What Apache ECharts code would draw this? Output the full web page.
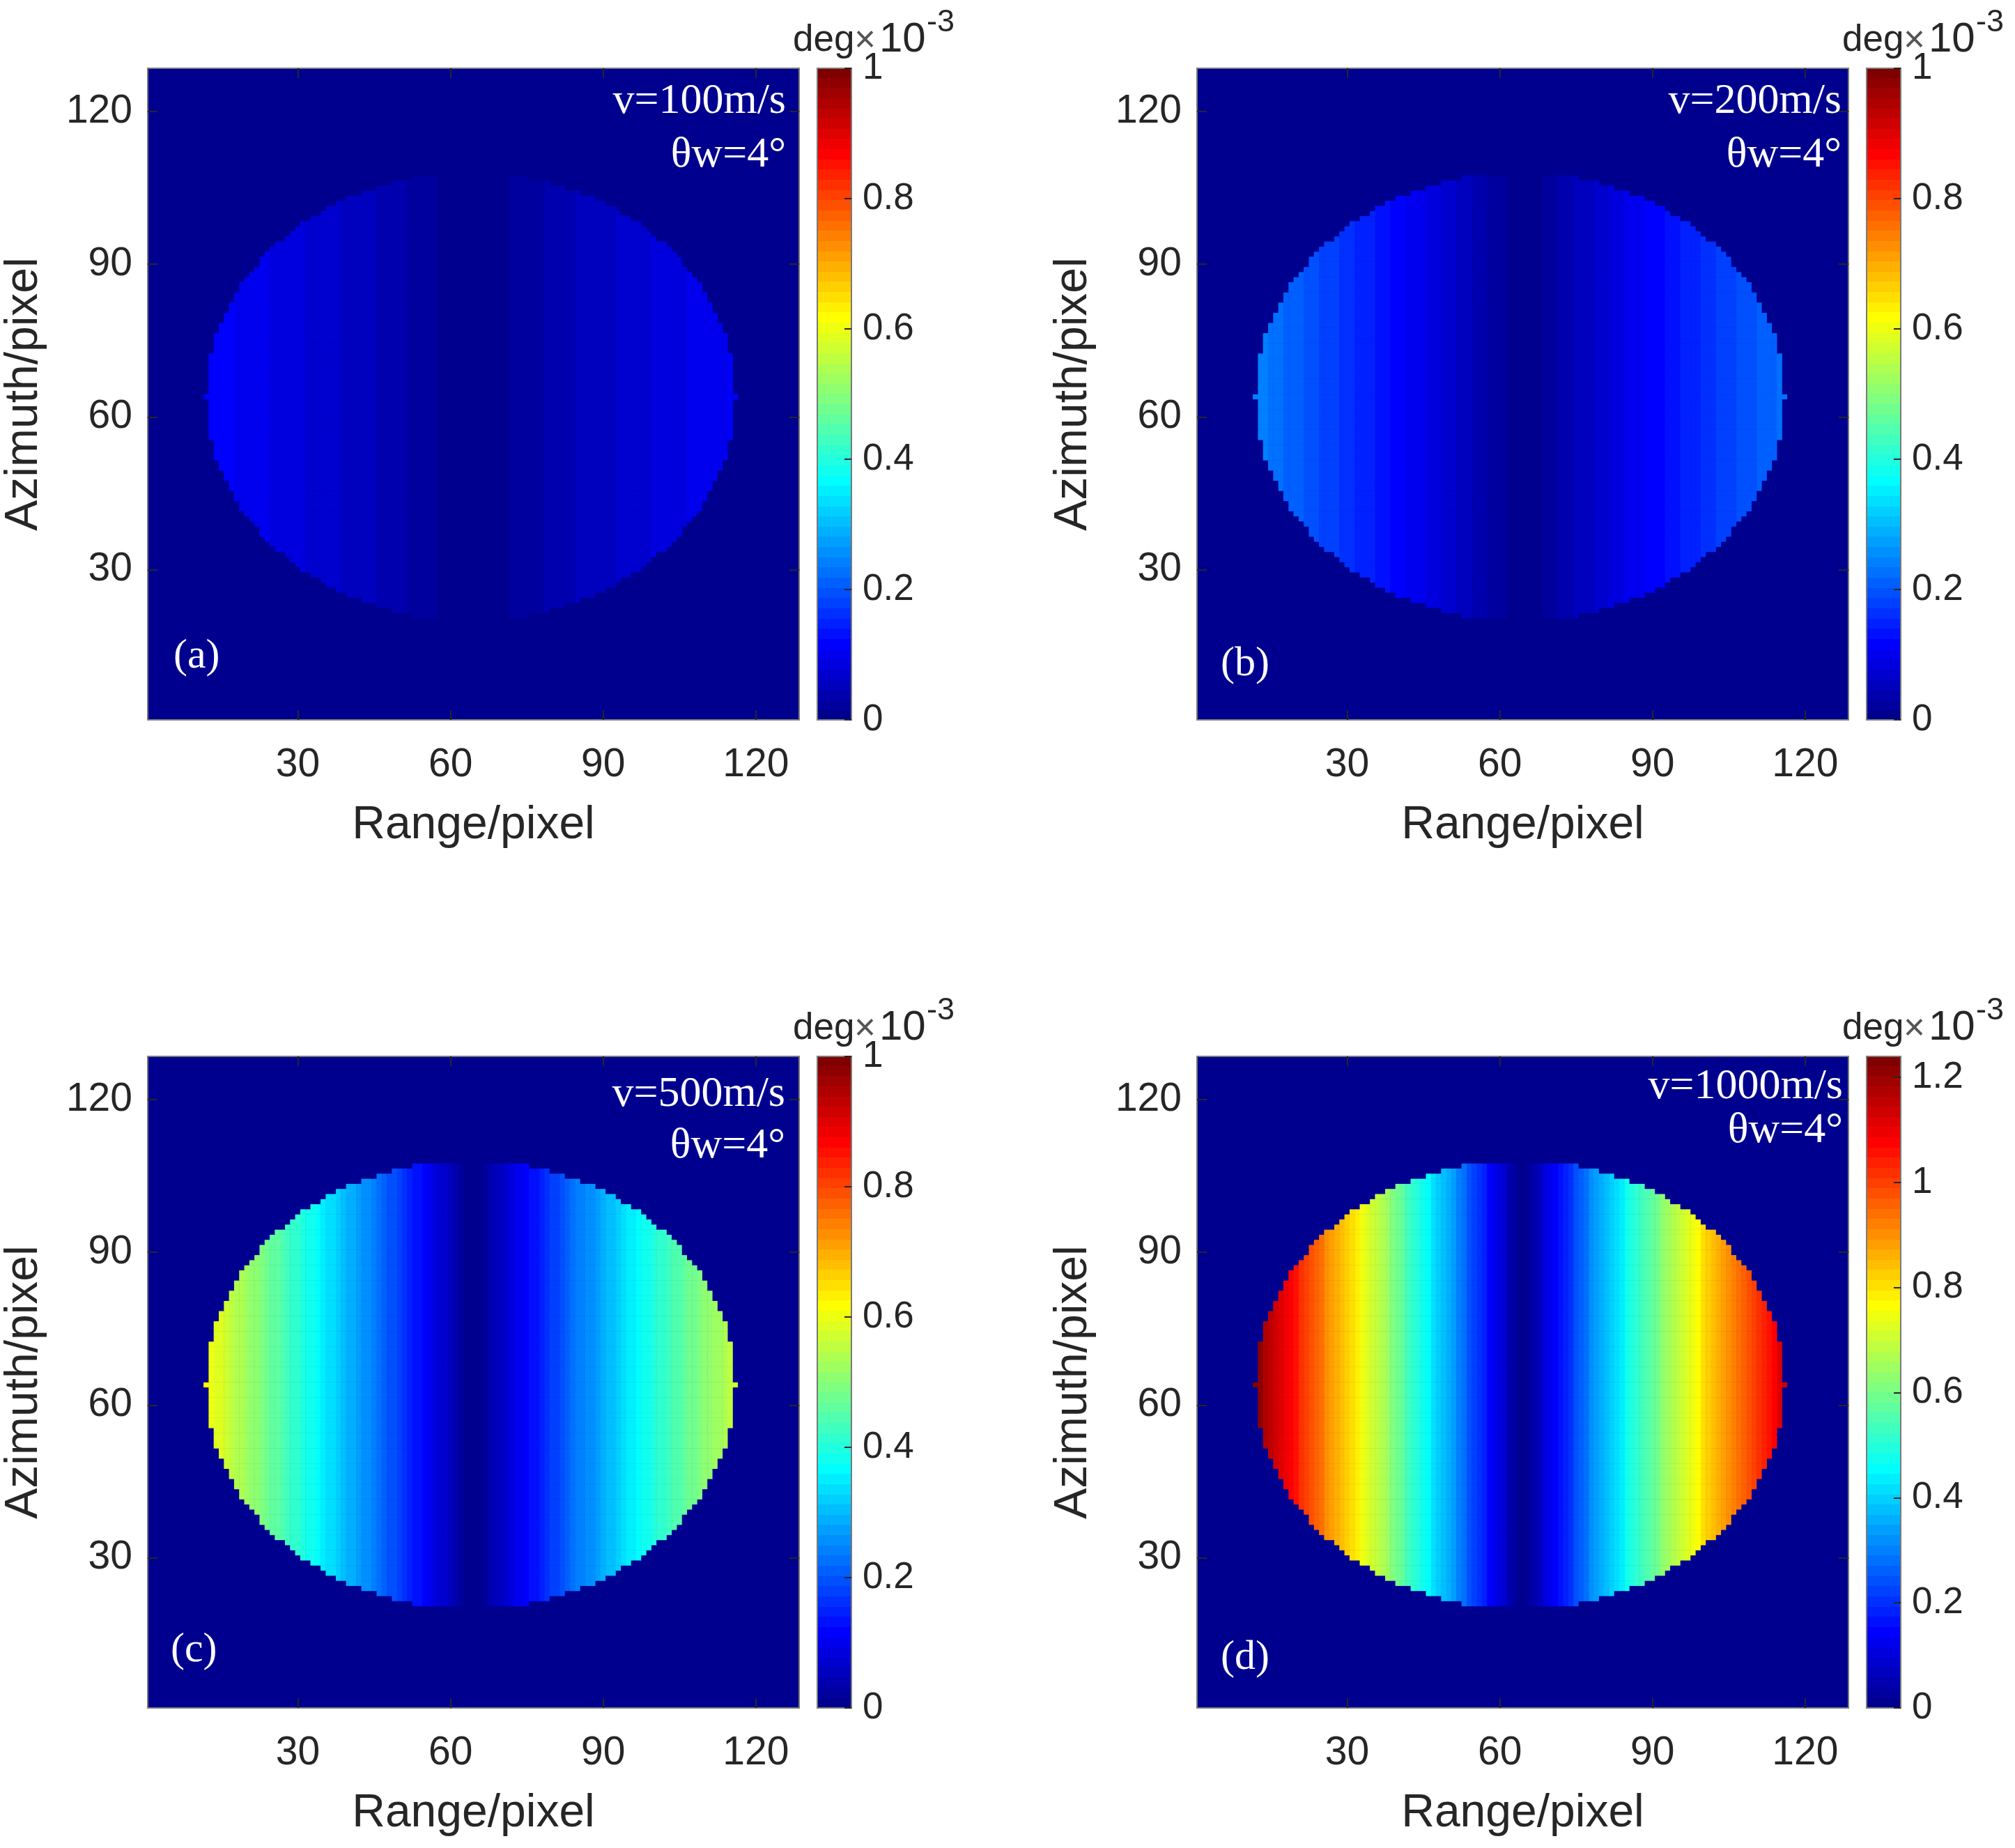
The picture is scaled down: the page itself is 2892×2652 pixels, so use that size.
<!DOCTYPE html>
<html lang="en">
<head>
<meta charset="UTF-8">
<title>Phase error maps</title>
<script src="https://cdn.jsdelivr.net/npm/echarts@6/dist/echarts.min.js"></script>
<style>
    html, body { margin: 0; padding: 0; background: #ffffff; }
    #main { width: 2892px; height: 2652px; }
</style>
</head>
<body>
<div id="main"></div>
<script>
    /*------------------ data ------------------*/
    var panelNames = ['(a)', '(b)', '(c)', '(d)'];
    var speedLabels = ['v=100m/s', 'v=200m/s', 'v=500m/s', 'v=1000m/s'];
    var beamLabel = 'θw=4°';
    var panelPeak = [0.124, 0.248, 0.62, 1.24];   // largest value of each map (x1e-3 deg)
    var colorMax = [1, 1, 1, 1.24];               // top of each colour bar
    var barTicks = 0.2;

    // phase of map (d) along range, columns 12 .. 116 (x1e-3 deg)
    var firstColumn = 12;
    var phaseByColumn = [
        1.24, 1.21, 1.18, 1.16, 1.14, 1.11, 1.09, 1.07, 1.05, 1.02,
        1.00, 0.98, 0.96, 0.93, 0.91, 0.89, 0.87, 0.84, 0.82, 0.80,
        0.78, 0.75, 0.73, 0.71, 0.68, 0.66, 0.64, 0.61, 0.59, 0.57,
        0.54, 0.52, 0.50, 0.47, 0.45, 0.42, 0.40, 0.38, 0.35, 0.33,
        0.30, 0.28, 0.25, 0.23, 0.20, 0.18, 0.15, 0.13, 0.10, 0.08,
        0.05, 0.03,
        0.00,
        0.00, 0.03, 0.05, 0.07, 0.10, 0.12, 0.14, 0.17, 0.19, 0.21,
        0.24, 0.26, 0.28, 0.31, 0.33, 0.35, 0.37, 0.40, 0.42, 0.44,
        0.47, 0.49, 0.51, 0.53, 0.56, 0.58, 0.60, 0.62, 0.64, 0.67,
        0.69, 0.71, 0.73, 0.75, 0.77, 0.80, 0.82, 0.84, 0.86, 0.88,
        0.90, 0.92, 0.94, 0.96, 0.98, 1.00, 1.02, 1.04, 1.06, 1.08,
        1.11, 1.14
    ];

    // first lit range column of the ellipse, by azimuth distance from row 64
    var centreRow = 64;
    var edgeColumn = [12, 13, 13, 13, 13, 13, 13, 13, 13, 14, 14, 14, 14,
        15, 15, 16, 16, 17, 17, 18, 18, 19, 19, 20, 21, 22, 23, 23, 24, 25,
        26, 28, 29, 30, 31, 33, 35, 36, 38, 40, 43, 46, 49, 53];

    /*------------------ layout ------------------*/
    var sans = 'Liberation Sans, Arial, sans-serif';
    var serif = 'Liberation Serif, Times New Roman, serif';
    var ink = '#262626';
    var frame = '#7a7a7a';
    var side = 935;
    var panels = [
        {left: 212,  top: 98,   speedX: 916, speedY: 48,  beamY: 125, tagX: 37, tagY: 844},
        {left: 1718, top: 98,   speedX: 925, speedY: 48,  beamY: 125, tagX: 34, tagY: 855},
        {left: 212,  top: 1516, speedX: 915, speedY: 55,  beamY: 129, tagX: 33, tagY: 852},
        {left: 1718, top: 1516, speedX: 927, speedY: 44,  beamY: 107, tagX: 34, tagY: 863}
    ];
    var barOffset = 961, barWidth = 49;

    // MATLAB jet(m)
    function jetColors(m) {
        var n = Math.ceil(m / 4), u = [], k;
        for (k = 1; k <= n; k++) u.push(k / n);
        for (k = 1; k < n; k++) u.push(1);
        for (k = n; k >= 1; k--) u.push(k / n);
        var g0 = Math.ceil(n / 2) - (m % 4 === 1 ? 1 : 0);
        function at(i) { return (i >= 1 && i <= u.length) ? u[i - 1] : 0; }
        var out = [];
        for (var i = 1; i <= m; i++) {
            var r = Math.round(at(i - g0 - n) * 255);
            var g = Math.round(at(i - g0) * 255);
            var b = Math.round(at(i - g0 + n) * 255);
            out.push('rgb(' + r + ',' + g + ',' + b + ')');
        }
        return out;
    }
    var jet = jetColors(64);

    var columns = [];
    for (var c = 1; c <= 128; c++) columns.push(String(c));

    function mapCells(p) {
        var scale = panelPeak[p] / panelPeak[3];
        var cells = [];
        for (var az = 1; az <= 128; az++) {
            var d = Math.abs(az - centreRow);
            var first = d < edgeColumn.length ? edgeColumn[d] : 999;
            var last = 128 - first;
            for (var rg = 1; rg <= 128; rg++) {
                var v = 0;
                if (rg >= first && rg <= last) v = phaseByColumn[rg - firstColumn] * scale;
                cells.push([rg - 1, az - 1, +v.toFixed(5)]);
            }
        }
        return cells;
    }

    function pieces(max) {
        var list = [];
        for (var i = 0; i < 64; i++) {
            var pc = {gte: max * i / 64, color: jet[i]};
            if (i < 63) pc.lt = max * (i + 1) / 64; else pc.lte = max;
            list.push(pc);
        }
        return list;
    }

    function barGradient() {
        var stops = [];
        for (var i = 0; i < 64; i++) {
            stops.push({offset: i / 64, color: jet[i]});
            stops.push({offset: (i + 1) / 64, color: jet[i]});
        }
        return {type: 'linear', x: 0, y: 1, x2: 0, y2: 0, colorStops: stops};
    }

    var onTick = function (index, value) { return Number(value) % 30 === 0; };

    var grid = [], xAxis = [], yAxis = [], series = [], visualMap = [], graphic = [];

    panels.forEach(function (pn, p) {
        grid.push({left: pn.left, top: pn.top, width: side, height: side,
            show: true, backgroundColor: jet[0], borderWidth: 0,
            outerBoundsMode: 'none', containLabel: false});
        var gi = grid.length - 1;

        var tickStyle = {show: true, inside: true, alignWithLabel: true, length: 14,
            interval: onTick, lineStyle: {color: ink, width: 2}};
        var lineStyle = {show: true, onZero: false, lineStyle: {color: frame, width: 2}};

        xAxis.push({
            type: 'category', gridIndex: gi, data: columns, position: 'bottom', z: 10,
            axisLine: lineStyle, axisTick: tickStyle, splitLine: {show: false},
            axisLabel: {interval: onTick, margin: 37, fontSize: 57, color: ink, fontFamily: sans},
            name: 'Range/pixel', nameLocation: 'middle', nameGap: 119, nameMoveOverlap: false,
            nameTextStyle: {fontSize: 66, color: ink, fontFamily: sans}
        });
        var xi = xAxis.length - 1;
        xAxis.push({
            type: 'category', gridIndex: gi, data: columns, position: 'top', z: 10,
            axisLine: lineStyle, axisTick: tickStyle, axisLabel: {show: false}, splitLine: {show: false}
        });
        yAxis.push({
            type: 'category', gridIndex: gi, data: columns, position: 'left', z: 10,
            axisLine: lineStyle, axisTick: tickStyle, splitLine: {show: false},
            axisLabel: {interval: onTick, margin: 22, fontSize: 57, color: ink, fontFamily: sans},
            name: 'Azimuth/pixel', nameLocation: 'middle', nameGap: 144, nameMoveOverlap: false,
            nameTextStyle: {fontSize: 66, color: ink, fontFamily: sans}
        });
        var yi = yAxis.length - 1;
        yAxis.push({
            type: 'category', gridIndex: gi, data: columns, position: 'right', z: 10,
            axisLine: lineStyle, axisTick: tickStyle, axisLabel: {show: false}, splitLine: {show: false}
        });

        series.push({
            type: 'heatmap', name: panelNames[p], xAxisIndex: xi, yAxisIndex: yi,
            data: mapCells(p), progressive: 0, animation: false,
            emphasis: {disabled: true}
        });
        visualMap.push({type: 'piecewise', show: false, seriesIndex: series.length - 1,
            dimension: 2, pieces: pieces(colorMax[p])});

        // colour bar
        var bx = pn.left + barOffset;
        grid.push({left: bx, top: pn.top, width: barWidth, height: side, show: true,
            backgroundColor: barGradient(), borderColor: frame, borderWidth: 2,
            outerBoundsMode: 'none', containLabel: false});
        var bi = grid.length - 1;
        xAxis.push({type: 'value', gridIndex: bi, show: false, min: 0, max: 1});
        yAxis.push({
            type: 'value', gridIndex: bi, position: 'right', min: 0, max: colorMax[p],
            interval: barTicks, z: 10,
            axisLine: {show: true, onZero: false, lineStyle: {color: frame, width: 2}},
            axisTick: {show: true, inside: true, length: 10, lineStyle: {color: ink, width: 2}},
            splitLine: {show: false},
            axisLabel: {margin: 16, fontSize: 53, color: ink, fontFamily: sans,
                showMaxLabel: colorMax[p] === 1, showMinLabel: true}
        });

        // colour bar title: deg x10^-3
        graphic.push({type: 'text', x: bx - 35, y: pn.top - 40, z: 20,
            style: {text: 'deg', fill: ink, fontSize: 53, fontFamily: sans, textVerticalAlign: 'middle'}});
        graphic.push({type: 'text', x: bx + 53, y: pn.top - 39, z: 20,
            style: {text: '×', fill: '#555555', fontSize: 53, fontFamily: sans, textVerticalAlign: 'middle'}});
        graphic.push({type: 'text', x: bx + 89, y: pn.top - 41, z: 20,
            style: {text: '10', fill: ink, fontSize: 60, fontFamily: sans, textVerticalAlign: 'middle'}});
        graphic.push({type: 'text', x: bx + 157, y: pn.top - 65, z: 20,
            style: {text: '-3', fill: ink, fontSize: 45, fontFamily: sans, textVerticalAlign: 'middle'}});

        // annotations inside the map
        graphic.push({type: 'text', x: pn.left + pn.speedX, y: pn.top + pn.speedY, z: 20,
            style: {text: speedLabels[p], fill: '#ffffff', fontSize: 62, fontFamily: serif,
                textAlign: 'right', textVerticalAlign: 'middle'}});
        graphic.push({type: 'text', x: pn.left + pn.speedX, y: pn.top + pn.beamY, z: 20,
            style: {text: beamLabel, fill: '#ffffff', fontSize: 62, fontFamily: serif,
                textAlign: 'right', textVerticalAlign: 'middle'}});
        graphic.push({type: 'text', x: pn.left + pn.tagX, y: pn.top + pn.tagY, z: 20,
            style: {text: panelNames[p], fill: '#ffffff', fontSize: 60, fontFamily: serif,
                textVerticalAlign: 'middle'}});
    });

    var myChart = echarts.init(document.getElementById('main'), null, {renderer: 'canvas'});
    myChart.setOption({
        backgroundColor: '#ffffff',
        animation: false,
        textStyle: {fontFamily: sans},
        grid: grid,
        xAxis: xAxis,
        yAxis: yAxis,
        visualMap: visualMap,
        series: series,
        graphic: graphic
    });
</script>
</body>
</html>
